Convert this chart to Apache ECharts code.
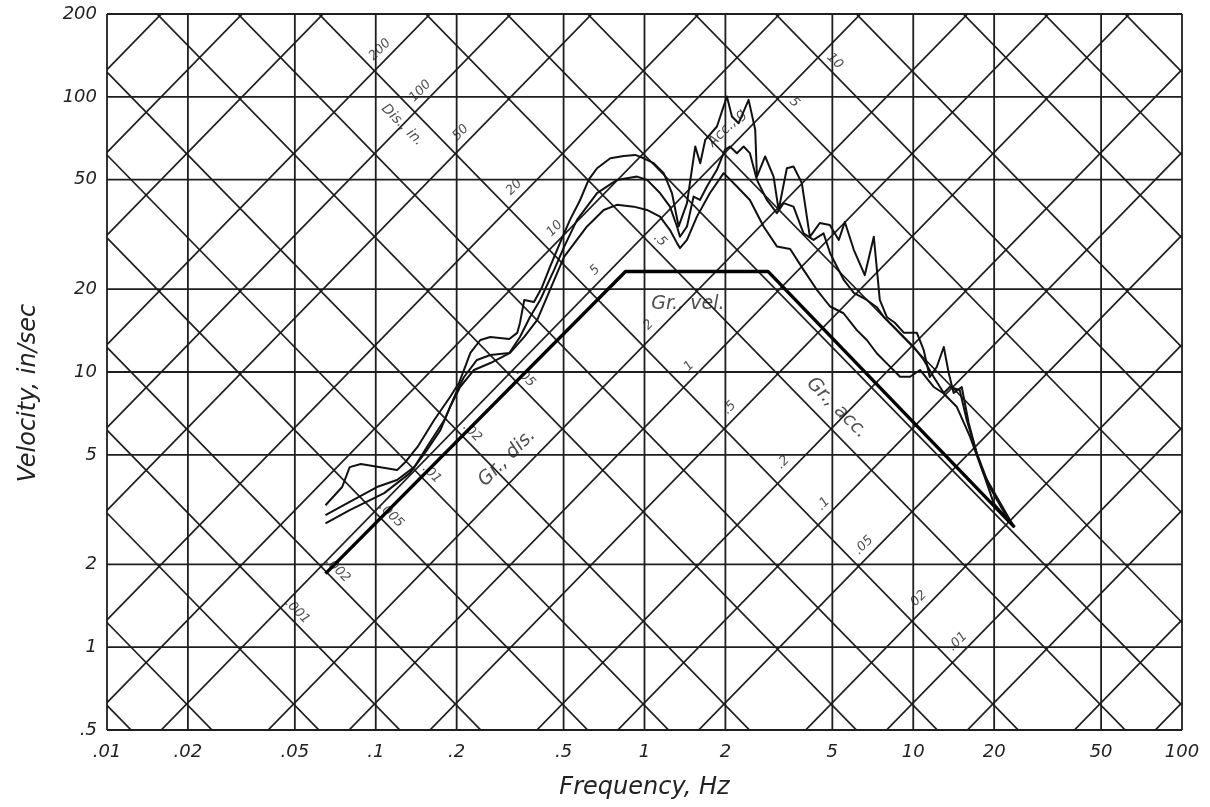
<!DOCTYPE html>
<html>
<head>
<meta charset="utf-8">
<script src="https://cdn.jsdelivr.net/npm/echarts@6/dist/echarts.min.js"></script>
<style>
html,body{margin:0;padding:0;background:#fff;}
#chart{width:1210px;height:807px;}
</style>
</head>
<body>
<div id="chart"></div>
<script>
// ---------- tick labels ----------
const xTickVals = [0.01, 0.02, 0.05, 0.1, 0.2, 0.5, 1, 2, 5, 10, 20, 50, 100];
const xTickLabels = ['.01', '.02', '.05', '.1', '.2', '.5', '1', '2', '5', '10', '20', '50', '100'];
const yTickVals = [0.5, 1, 2, 5, 10, 20, 50, 100, 200];
const yTickLabels = ['.5', '1', '2', '5', '10', '20', '50', '100', '200'];

// ---------- tripartite diagonal grid (displacement in., acceleration g) ----------
const dispLines = [0.001, 0.002, 0.005, 0.01, 0.02, 0.05, 0.1, 0.2, 0.5, 1, 2, 5, 10, 20, 50, 100, 200, 500, 1000, 2000];
const accLines = [0.0001, 0.0002, 0.0005, 0.001, 0.002, 0.005, 0.01, 0.02, 0.05, 0.1, 0.2, 0.5, 1, 2, 5, 10, 20, 50, 100, 200];
const dispLabelVals = [200, 100, 50, 20, 10, 5, 2, 1, 0.5, 0.2, 0.1, 0.05, 0.02, 0.01];
const dispLabelText = ['200', '100', '50', '20', '10', '5', '2', '1', '.5', '.2', '.1', '.05', '.02', '.01'];
const accLabelVals = [0.001, 0.002, 0.005, 0.01, 0.02, 0.05, 0.5, 5, 10];
const accLabelText = ['.001', '.002', '.005', '.01', '.02', '.05', '.5', '5', '10'];

// ---------- ground motion (Gr. dis. / Gr. vel. / Gr. acc.) ----------
const groundFreq = [0.065, 0.85, 2.88, 23.8];
const groundVel = [1.85, 23.2, 23.2, 2.73];

// ---------- response spectra (three damping levels) ----------
const s1Freq = [0.065, 0.075, 0.080, 0.088, 0.120, 0.129, 0.143, 0.165, 0.189, 0.204, 0.213, 0.225, 0.245, 0.267, 0.314, 0.336, 0.344, 0.357, 0.388, 0.416, 0.445, 0.485, 0.528, 0.575, 0.620, 0.666, 0.746, 0.837, 0.924, 0.993, 1.082, 1.179, 1.265, 1.340, 1.439, 1.545, 1.612, 1.683, 1.860, 2.026, 2.115, 2.240, 2.440, 2.582, 2.620, 2.812, 3.022, 3.155, 3.386, 3.585, 3.850, 4.124, 4.491, 4.893, 5.284, 5.565, 6.009, 6.602, 7.133, 7.508, 7.97, 8.54, 9.22, 10.31, 10.94, 11.52, 12.23, 12.99, 13.55, 14.14, 15.15, 16.08, 17.22, 18.45, 19.92, 23.8];
const s1Vel = [3.28, 3.82, 4.51, 4.63, 4.40, 4.71, 5.34, 6.69, 8.11, 9.12, 10.17, 11.73, 13.07, 13.41, 13.18, 13.87, 15.08, 18.27, 17.97, 20.38, 24.09, 29.45, 35.71, 42.0, 50.0, 55.0, 59.8, 61.0, 61.5, 59.8, 57.4, 52.8, 44.7, 33.8, 41.1, 66.0, 57.4, 69.8, 78.0, 100.3, 84.8, 80.2, 97.5, 75.9, 51.3, 60.7, 51.3, 38.8, 55.0, 55.8, 48.6, 31.0, 34.8, 34.2, 30.2, 35.1, 27.8, 22.5, 31.0, 18.3, 15.85, 15.1, 13.9, 13.9, 12.0, 9.59, 10.43, 12.33, 9.92, 8.39, 8.82, 6.53, 5.08, 4.15, 3.34, 2.73];

const s2Freq = [0.065, 0.080, 0.101, 0.120, 0.139, 0.155, 0.180, 0.201, 0.213, 0.238, 0.267, 0.314, 0.344, 0.375, 0.409, 0.461, 0.502, 0.561, 0.666, 0.790, 0.938, 1.022, 1.142, 1.244, 1.321, 1.355, 1.439, 1.523, 1.608, 1.707, 1.860, 1.992, 2.078, 2.207, 2.338, 2.467, 2.620, 2.853, 3.109, 3.293, 3.585, 3.907, 4.256, 4.637, 4.906, 5.514, 6.009, 6.717, 7.316, 7.77, 8.46, 9.22, 10.04, 10.94, 11.92, 12.99, 13.67, 14.89, 15.81, 17.22, 19.25, 22.27, 23.8];
const s2Vel = [3.02, 3.37, 3.82, 4.05, 4.51, 5.34, 6.69, 8.60, 9.59, 11.06, 11.53, 11.73, 13.41, 15.85, 18.27, 23.49, 28.48, 35.71, 44.7, 49.9, 51.3, 49.9, 44.7, 39.9, 33.8, 31.0, 33.8, 43.4, 42.2, 47.2, 54.3, 64.2, 66.0, 62.4, 66.0, 62.4, 49.9, 42.2, 37.8, 41.1, 39.9, 31.9, 30.2, 31.9, 27.0, 21.6, 19.4, 18.27, 17.2, 15.85, 14.6, 13.41, 12.33, 11.06, 9.59, 8.39, 8.82, 8.60, 6.69, 5.08, 3.82, 2.97, 2.73];

const s3Freq = [0.065, 0.080, 0.1075, 0.134, 0.155, 0.174, 0.189, 0.206, 0.232, 0.267, 0.316, 0.357, 0.399, 0.445, 0.502, 0.611, 0.705, 0.790, 0.912, 1.022, 1.142, 1.244, 1.321, 1.355, 1.439, 1.567, 1.752, 1.970, 2.207, 2.467, 2.774, 3.109, 3.483, 3.907, 4.378, 4.906, 5.501, 6.166, 6.717, 7.316, 7.97, 8.93, 9.73, 10.60, 11.89, 12.95, 14.51, 16.26, 18.24, 20.44, 22.91, 23.8];
const s3Vel = [2.82, 3.15, 3.63, 4.29, 5.20, 6.15, 7.46, 8.82, 10.17, 10.78, 11.73, 13.41, 15.46, 19.87, 26.2, 33.8, 38.8, 40.5, 39.9, 38.8, 36.7, 32.8, 29.4, 28.2, 30.2, 36.7, 44.7, 52.8, 47.2, 42.2, 33.8, 28.6, 28.0, 23.5, 19.9, 17.3, 16.35, 14.2, 13.07, 11.7, 10.75, 9.61, 9.61, 10.17, 8.84, 8.37, 7.48, 5.82, 4.28, 3.52, 2.90, 2.73];

// ---------- build option ----------
const G = 386.1; // in/s^2 per g
const TWO_PI = 2 * Math.PI;
const FMIN = xTickVals[0], FMAX = xTickVals[xTickVals.length - 1];
const VMIN = yTickVals[0], VMAX = yTickVals[yTickVals.length - 1];
const FONT = 'DejaVu Sans';
const INK = '#222';
const GRID_COLOR = '#1e1e1e';

function zip(a, b) { return a.map((v, i) => [v, b[i]]); }

const series = [];
function addLine(data, width, color, z) {
  series.push({
    type: 'line', xAxisIndex: 0, yAxisIndex: 0, data: data,
    symbol: 'none', silent: true, clip: true, animation: false, z: z,
    lineStyle: { color: color, width: width, cap: 'butt', join: 'round' }
  });
}
// rectangular grid
xTickVals.forEach(f => addLine([[f, VMIN], [f, VMAX]], 1.8, GRID_COLOR, 1));
yTickVals.forEach(v => addLine([[FMIN, v], [FMAX, v]], 1.8, GRID_COLOR, 1));
// displacement lines: V = 2*pi*f*D
dispLines.forEach(d => addLine([[FMIN, TWO_PI * FMIN * d], [FMAX, TWO_PI * FMAX * d]], 1.7, GRID_COLOR, 1));
// acceleration lines: V = A*g/(2*pi*f)
accLines.forEach(a => addLine([[FMIN, a * G / (TWO_PI * FMIN)], [FMAX, a * G / (TWO_PI * FMAX)]], 1.7, GRID_COLOR, 1));

// labels for the diagonal scales
const DISP_LABEL_ACC = 0.25, DISP_LABEL_SHIFT = 1.14;
const ACC_LABEL_DISP = 4.2, ACC_LABEL_SHIFT = 1.12;
const dispLabelData = dispLabelVals.map((d, i) => {
  const dd = d * DISP_LABEL_SHIFT;
  const f = Math.sqrt(DISP_LABEL_ACC * G / (4 * Math.PI * Math.PI * dd));
  return { value: [f, TWO_PI * f * dd], name: dispLabelText[i] };
});
const accLabelData = accLabelVals.map((a, i) => {
  const aa = a * ACC_LABEL_SHIFT;
  const f = Math.sqrt(aa * G / (4 * Math.PI * Math.PI * ACC_LABEL_DISP));
  return { value: [f, TWO_PI * f * ACC_LABEL_DISP], name: accLabelText[i] };
});
function labelSeries(data, rotate, size, z) {
  return {
    type: 'scatter', xAxisIndex: 0, yAxisIndex: 0, data: data,
    symbolSize: 1, itemStyle: { color: 'rgba(0,0,0,0)' }, silent: true, animation: false, z: z,
    label: { show: true, position: 'inside', formatter: '{b}', rotate: rotate,
      fontFamily: FONT, fontStyle: 'italic', fontSize: size, color: INK }
  };
}
series.push(labelSeries(dispLabelData, 45, 13, 2));
series.push(labelSeries(accLabelData, -45, 13, 2));

// captions
const captions = [
  { value: [0.1255, 79], name: 'Dis., in.', rot: -45, size: 14 },
  { value: [2.03, 77], name: 'Acc., g', rot: 45, size: 14 },
  { value: [1.45, 17.6], name: 'Gr., vel.', rot: 0, size: 19 },
  { value: [0.308, 4.87], name: 'Gr., dis.', rot: 45, size: 19 },
  { value: [5.2, 7.4], name: 'Gr., acc.', rot: -45, size: 19 }
];
series.push({
  type: 'scatter', xAxisIndex: 0, yAxisIndex: 0, symbolSize: 1,
  itemStyle: { color: 'rgba(0,0,0,0)' }, silent: true, animation: false, z: 2,
  data: captions.map(c => ({ value: c.value, name: c.name,
    label: { rotate: c.rot, fontSize: c.size } })),
  label: { show: true, position: 'inside', formatter: '{b}', fontFamily: FONT,
    fontStyle: 'italic', color: INK }
});

// spectra and ground motion
addLine(zip(s3Freq, s3Vel), 2, '#111', 5);
addLine(zip(s2Freq, s2Vel), 2, '#111', 5);
addLine(zip(s1Freq, s1Vel), 2, '#111', 5);
addLine(zip(groundFreq, groundVel), 3.4, '#000', 6);

const log10 = Math.log10;
const axisLabelStyle = { fontFamily: FONT, fontStyle: 'italic', fontSize: 18, color: INK };
const nameStyle = { fontFamily: FONT, fontStyle: 'italic', fontSize: 24, color: INK };

const option = {
  backgroundColor: '#fff',
  animation: false,
  grid: { left: 107, right: 28, top: 14, bottom: 77, containLabel: false },
  xAxis: [
    { type: 'log', logBase: 10, min: FMIN, max: FMAX, show: false },
    { type: 'value', min: log10(FMIN), max: log10(FMAX), position: 'bottom',
      axisLine: { show: false }, axisTick: { show: false }, splitLine: { show: false },
      axisLabel: Object.assign({ margin: 13, customValues: xTickVals.map(log10),
        formatter: v => { const i = xTickVals.findIndex(t => Math.abs(log10(t) - v) < 1e-6); return i >= 0 ? xTickLabels[i] : ''; } }, axisLabelStyle),
      name: 'Frequency, Hz', nameLocation: 'middle', nameGap: 46, nameTextStyle: nameStyle }
  ],
  yAxis: [
    { type: 'log', logBase: 10, min: VMIN, max: VMAX, show: false },
    { type: 'value', min: log10(VMIN), max: log10(VMAX), position: 'left',
      axisLine: { show: false }, axisTick: { show: false }, splitLine: { show: false },
      axisLabel: Object.assign({ margin: 10, customValues: yTickVals.map(log10),
        formatter: v => { const i = yTickVals.findIndex(t => Math.abs(log10(t) - v) < 1e-6); return i >= 0 ? yTickLabels[i] : ''; } }, axisLabelStyle),
      name: 'Velocity, in/sec', nameLocation: 'middle', nameGap: 66,
      nameTextStyle: Object.assign({ padding: [0, 42, 0, 0] }, nameStyle) }
  ],
  series: series
};

const chart = echarts.init(document.getElementById('chart'), null, { renderer: 'canvas' });
chart.setOption(option);
</script>
</body>
</html>
